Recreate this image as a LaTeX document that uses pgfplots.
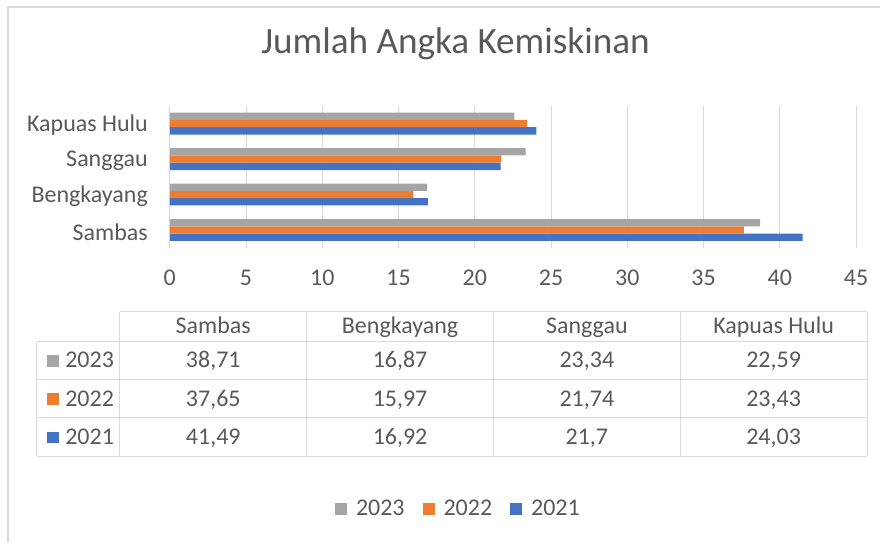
\documentclass[border=0pt]{standalone}
\usepackage{pgfplots}
\pgfplotsset{compat=1.18}
\usepackage{fontspec}
\setmainfont{Carlito}
\definecolor{cgray}{HTML}{A5A5A5}
\definecolor{corange}{HTML}{ED7D31}
\definecolor{cblue}{HTML}{4472C4}
\definecolor{ctext}{HTML}{595959}
\definecolor{cline}{HTML}{D9D9D9}
\begin{document}
\begin{tikzpicture}
% canvas and frame
\begin{scope}[x=0.5pt,y=-0.5pt]
\path (0,0) rectangle (881,543);
\draw[cline,line width=1pt] (8,543) -- (8,7) -- (881,7);
\node[anchor=base,font=\fontsize{18.6}{22}\selectfont,text=ctext,inner sep=0pt] at (456,54) {Jumlah Angka Kemiskinan};
% data table grid
\begin{scope}[cline,line width=0.5pt]
\draw (120,312) -- (868,312);
\foreach \y in {342,380,418,457} {\draw (37,\y) -- (868,\y);}
\draw (37,342) -- (37,457);
\foreach \x in {120,307,494,681,868} {\draw (\x,312) -- (\x,457);}
\end{scope}
\begin{scope}[every node/.style={anchor=base,font=\fontsize{12}{14}\selectfont,text=ctext,inner sep=0pt}]
\node at (213.5,334) {Sambas};
\node at (400.5,334) {Bengkayang};
\node at (587.5,334) {Sanggau};
\node at (774.5,334) {Kapuas Hulu};
\node at (213.5,368.3) {38,71};
\node at (400.5,368.3) {16,87};
\node at (587.5,368.3) {23,34};
\node at (774.5,368.3) {22,59};
\node at (213.5,406.7) {37,65};
\node at (400.5,406.7) {15,97};
\node at (587.5,406.7) {21,74};
\node at (774.5,406.7) {23,43};
\node at (213.5,445) {41,49};
\node at (400.5,445) {16,92};
\node at (587.5,445) {21,7};
\node at (774.5,445) {24,03};
\node[anchor=base west] at (65,368.3) {2023};
\node[anchor=base west] at (65,406.7) {2022};
\node[anchor=base west] at (65,445) {2021};
\end{scope}
\fill[cgray] (47,355) rectangle (59,367);
\fill[corange] (47,393.5) rectangle (59,405.5);
\fill[cblue] (47,432) rectangle (59,444);
\end{scope}
\begin{axis}[
  at={(85pt,-124pt)}, anchor=south west,
  scale only axis, width=343.5pt, height=71pt,
  xbar=0pt, bar width=3.65pt,
  xmin=0, xmax=45, ymin=-0.5, ymax=3.5,
  xtick={0,5,...,45}, ytick={0,1,2,3},
  yticklabels={Sambas,Bengkayang,Sanggau,Kapuas Hulu},
  axis line style={draw=none},
  major tick length=0pt,
  xmajorgrids, major grid style={cline,line width=0.5pt},
  ticklabel style={font=\fontsize{12}{14}\selectfont,text=ctext},
  /pgf/number format/assume math mode=true,
  yticklabel style={xshift=-7.5pt,yshift=-1pt},
  xticklabel style={yshift=-7.5pt},
  legend columns=-1, reverse legend,
  legend style={draw=none, at={(0.422,-1.845)}, anchor=center,
    font=\fontsize{12}{14}\selectfont, text=ctext,
    /tikz/every odd column/.append style={column sep=2.5pt},
    /tikz/every even column/.append style={column sep=7pt}},
  legend image code/.code={\fill[#1,draw=none] (0pt,-3pt) rectangle (6pt,3pt);},
]
\addplot[fill=cblue,draw=none] coordinates {(41.49,0) (16.92,1) (21.7,2) (24.03,3)};
\addplot[fill=corange,draw=none] coordinates {(37.65,0) (15.97,1) (21.74,2) (23.43,3)};
\addplot[fill=cgray,draw=none] coordinates {(38.71,0) (16.87,1) (23.34,2) (22.59,3)};
\legend{2021,2022,2023}
\end{axis}
\end{tikzpicture}
\end{document}
